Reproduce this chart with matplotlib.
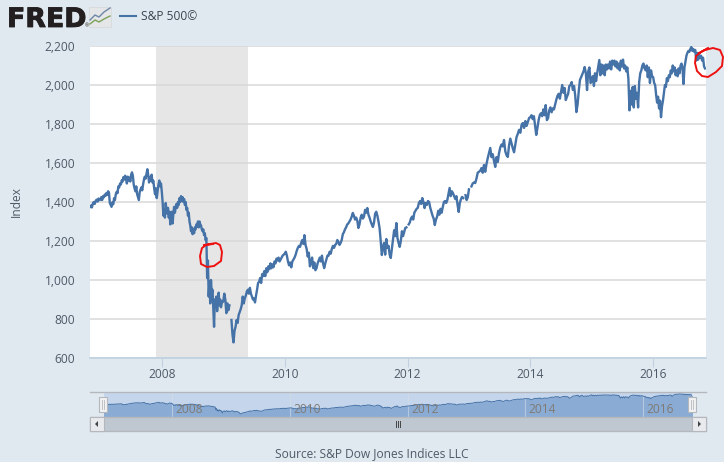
import matplotlib
matplotlib.use('Agg')
import matplotlib.pyplot as plt
import matplotlib.patheffects as pe
from matplotlib.patches import Rectangle, Polygon
import numpy as np

plt.rcParams['font.family'] = ['Open Sans', 'DejaVu Sans']

nan = float('nan')

# index, values spread evenly over each span
y2006 = [1375, 1382, 1372, 1392, 1400, 1390, 1406, 1412, 1402, 1418, 1410]
y2007 = [1412, 1425, 1410, 1430, 1424, 1438, 1432, 1446, 1436, 1455, 1448, 1395, 1385, 1375, 1398, 1388, 1420, 1410,
         1440, 1452, 1445, 1480, 1475, 1495, 1490, 1512, 1505, 1528, 1515, 1535, 1520, 1495, 1530, 1510, 1525, 1505,
         1540, 1552, 1535, 1490, 1470, 1455, 1480, 1440, 1425, 1410, 1450, 1465, 1475, 1460, 1490, 1515, 1530, 1520,
         1545, 1568, 1540, 1500, 1525, 1510, 1540, 1500, 1510, 1470, 1440, 1470, 1420, 1455, 1490, 1510, 1480, 1495]
y2008 = [1450, 1400, 1330, 1360, 1320, 1395, 1360, 1340, 1370, 1320, 1350, 1285, 1320,
         1350, 1290, 1340, 1375, 1345, 1370, 1390, 1370, 1400, 1385, 1420, 1400, 1430, 1405, 1425, 1400,
         1415, 1385, 1400, 1360, 1370, 1330, 1345, 1300, 1280, 1250, 1270, 1235, 1260, 1240,
         1270, 1260, 1285, 1275, 1300, 1270, 1300, 1285, 1280, 1260, 1250, 1260, 1230, 1240, 1205, 1215,
         1010, 1100, 915, 990, 880, 1000, 930, 950, 855, 760, 900, 880, 915, 840, 890, 935, 870, 900, 860, 880, 890]
y2009 = [890, 930, 900, 830, 880, 845, 870, nan, 795, 720, 680, 740, 760, 795, 780, 820, 835, 850, 870, 915,
         880, 905, 920, 940, 950, 930, 960, 930, 915, 900, 905, 885, 920, 950, 985, 990, 1010, 985, 1030, 1020,
         1045, 1020, 1060, 1040, 1070, 1055, 1085, 1060, 1080, 1065, 1095, 1085, 1110, 1100, 1115, 1095, 1105, 1115, 1125, 1130]
y2010 = [1135, 1145, 1125, 1095, 1075, 1090, 1065, 1095, 1105, 1115, 1130, 1150, 1165, 1175, 1170, 1190, 1205, 1185, 1230, 1180,
         1160, 1120, 1140, 1070, 1090, 1115, 1061, 1090, 1050, 1060, 1085, 1100, 1115, 1095, 1125, 1085, 1061, 1085, 1105, 1125,
         1125, 1145, 1135, 1160, 1175, 1165, 1180, 1185, 1205, 1195, 1180, 1190, 1205, 1235, 1245, 1260]
y2011 = [1270, 1285, 1290, 1300, 1310, 1325, 1344, 1330, 1310, 1320, 1305, 1267, 1285, 1320, 1335, 1315, 1325, 1360, 1345, 1369,
         1335, 1320, 1300, 1285, 1272, 1295, 1340, 1350, 1330, 1300, 1265, 1200, 1128, 1170, 1190, 1130, 1210, 1165, 1175, 1130,
         1113, 1160, 1205, 1255, 1225, 1292, 1215, 1190, 1170, 1200, 1250, 1225, 1245, 1267, 1270]
y2012 = [nan, 1285, 1295, 1315, 1325, 1310, 1345, 1355, 1365, 1370, 1395, 1405, 1390, 1420, 1400, 1369, 1395, 1385, 1405, 1400, 1370,
         1350, 1330, 1315, 1282, 1310, 1325, 1355, 1335, 1365, 1345, 1374, 1400, 1405, 1395, 1410, 1440, 1472, 1430, 1455, 1445,
         1430, 1415, 1430, 1385, 1349, 1395, 1415, 1426, 1420, nan, 1435, 1410, 1425]
y2013 = [1465, nan, 1480, 1495, 1500, 1497, 1520, 1550, 1555, 1560, 1574, 1550, 1590, 1555, 1595, 1625, 1650, 1677, 1630, 1645,
         1610, 1580, 1630, 1605, 1650, 1680, 1695, 1685, 1718, 1660, 1640, 1631, 1690, 1725, 1700, 1675, 1655, 1695, 1733, 1750,
         1770, 1755, 1795, 1805, 1780, 1815, 1790, 1810, 1831]
y2014 = [1835, 1845, 1825, 1840, 1790, 1744, 1780, 1820, 1846, 1855, 1840, 1875, 1845, 1897, 1820, 1830, 1870, 1885, 1860, 1880,
         1875, 1900, 1925, 1945, 1955, 1930, 1965, 2000, 1960, 1985, 1923, 1940, 1955, 1995, 2000, 2015, 1975, 1995, 1945, 1861,
         1900, 1970, 2026, 2040, 2055, 2070, 2092, 2060, 1974, 2070, 2090, 2010]
y2015 = [2020, 2045, 1995, 2060, 2020, 2060, 2095, 2128, 2050, 2105, 2060, 2100, 2050, 2105, 2080, 2105, 2085, 2120, 2080, 2125,
         2105, 2125, 2095, 2120, 2085, 2110, 2075, 2125, 2095, 2130, 2085, 2100, 2070, 2090, 2030, 1870, 1970, 1900, 1990, 1885,
         1995, 1930, 1960, 1885, 2015, 2060, 2075, 2100, 2110, 2085, 2075, 2100, 2040, 2090, 2010, 2075, 2045]
y2016 = [2040, 2010, 2000, 1950, 1910, 1940, 1880, 1920, 1835, 1890, 1920, 1960, 2000, 1990, 2035, 2020, 2050, 2040, 2075, 2060,
         2100, 2070, 2090, 2050, 2075, 2045, 2085, 2060, 2100, 2110, 2085, 2005, 2090, 2120, 2150, 2165, 2175, 2170, 2185, 2195,
         2175, 2185, 2170, 2180, 2125, 2165, 2130, 2155, 2140, 2150, 2125, 2140, 2095, 2085]
blocks = [(2006.83, 2007.0, y2006), (2007.0, 2008.0, y2007), (2008.0, 2009.0, y2008), (2009.0, 2010.0, y2009),
          (2010.0, 2011.0, y2010), (2011.0, 2012.0, y2011), (2012.0, 2013.0, y2012), (2013.0, 2014.0, y2013),
          (2014.0, 2015.0, y2014), (2015.0, 2016.0, y2015), (2016.0, 2016.86, y2016)]
recession = [2007.90, 2009.40]
y_ticks = [600, 800, 1000, 1200, 1400, 1600, 1800, 2000, 2200]
x_ticks = [2008, 2010, 2012, 2014, 2016]
series_name = 'S&P 500©'
source = 'Source: S&P Dow Jones Indices LLC'

dates = np.concatenate([np.linspace(a, b, len(v), endpoint=False) for a, b, v in blocks])
values = np.concatenate([v for a, b, v in blocks])
ok = ~np.isnan(values)

W, H = 724, 462
BG = '#e1e9f0'
LINE = '#4572a7'
TXT = '#4d5a68'
FS = 8.64

def axes_px(left, top, right, bottom):
    return fig.add_axes([left / W, 1 - bottom / H, (right - left) / W, (bottom - top) / H])

fig = plt.figure(figsize=(W / 100, H / 100), dpi=100, facecolor=BG)

# main chart
ax = axes_px(90, 46, 706, 358)
ax.set_xlim(2006.83, 2016.86)
ax.set_ylim(600, 2200)
ax.axvspan(recession[0], recession[1], color='#e6e6e6', lw=0, zorder=1)
ax.grid(axis='y', color='#d8d8d8', lw=1.1, zorder=2)
ax.plot(dates, values, color=LINE, lw=1.7, solid_joinstyle='round', zorder=3)
ax.set_yticks(y_ticks)
ax.set_yticklabels(['{:,}'.format(t) for t in y_ticks])
ax.set_xticks(x_ticks)
ax.tick_params(axis='y', length=0, pad=10.5, labelsize=FS, labelcolor=TXT)
ax.tick_params(axis='x', length=6.5, width=0.8, color='#c0d0e0', pad=0.5, labelsize=FS, labelcolor=TXT)
ax.set_ylabel('Index', fontsize=FS, color=TXT)
ax.yaxis.set_label_coords(-0.109, 0.5)
for s in ['top', 'left', 'right']:
    ax.spines[s].set_visible(False)
ax.spines['bottom'].set_color('#c0d0e0')
ax.spines['bottom'].set_linewidth(1.2)

# range navigator
nav = axes_px(103.5, 392, 692, 417)
nav.set_xlim(2006.83, 2016.83)
nav.set_ylim(455, 2340)
nav.set_facecolor('#c5d6ec')
nav.fill_between(dates[ok], values[ok], 455, color='#8aabd3', lw=0, zorder=2)
nav.plot(dates[ok], values[ok], color=LINE, lw=0.7, zorder=3)
for t in x_ticks:
    nav.axvline(t, color='#d5deea', lw=0.8, alpha=0.6, zorder=2.5)
    nav.text(t + 0.29, 1010, str(t), fontsize=FS, color='#7f7a75', ha='center', va='center', zorder=4)
nav.set_xticks([])
nav.set_yticks([])
for s in nav.spines.values():
    s.set_visible(False)

# decoration layer in pixel coordinates
ov = axes_px(0, 0, W, H)
ov.set_xlim(0, W)
ov.set_ylim(H, 0)
ov.axis('off')
ov.patch.set_alpha(0)

# navigator frame and scrollbar
ov.plot([90, 706], [392, 392], color='#b4b8bd', lw=1)
ov.add_patch(Rectangle((90, 417), 616, 14, fc='#bfc7d1', ec='#b4b8bd', lw=1))
for x0 in (90, 692):
    ov.add_patch(Rectangle((x0, 417), 14, 14, fc='#e8eaee', ec='#b4b8bd', lw=0.8))
ov.add_patch(Polygon([[98, 421], [98, 427], [95, 424]], fc='#444444', lw=0))
ov.add_patch(Polygon([[698, 421], [698, 427], [701, 424]], fc='#444444', lw=0))
for x0 in (396, 398, 400):
    ov.plot([x0, x0], [421, 427], color='#444444', lw=0.7)
for x0 in (103, 692):
    ov.add_patch(Rectangle((x0 - 4, 397), 8, 15, fc='#f2f2f2', ec='#b4b8bd', lw=0.8, zorder=5))
    for dx in (-1, 1):
        ov.plot([x0 + dx, x0 + dx], [400, 409], color='#b4b8bd', lw=0.6, zorder=6)

# header: logo and legend
ov.text(7, 27, 'FRED', fontsize=19.3, fontweight='bold', color='#231f20', family='DejaVu Sans', va='baseline',
        path_effects=[pe.withStroke(linewidth=0.6, foreground='#231f20')])
ov.text(84.5, 27, '®', fontsize=3.5, color='#231f20', va='baseline')
ov.add_patch(Rectangle((89, 7), 22, 20, fc='#e4e6e8', ec='#d5d8da', lw=0.5))
ov.plot([90, 95, 99, 104, 110], [20, 15, 17, 12, 8], color='#6d87a5', lw=1)
ov.plot([90, 95, 99, 104, 110], [24, 20, 22, 19, 16], color='#7da25a', lw=1)
ov.plot([120, 136], [16, 16], color=LINE, lw=1.5)
ov.text(141, 16, series_name, fontsize=FS, color='#3c4650', va='center')
ov.text(372, 454, source, fontsize=FS, color=TXT, ha='center', va='center')

# hand drawn red marks
mark1_x = [204, 210, 216, 220, 222, 221, 214, 207, 201, 200, 202, 206, 213]
mark1_y = [245, 244, 243, 245, 252, 261, 266, 267, 264, 256, 248, 245, 244]
mark2_x = [699, 705, 713, 720, 723, 722, 716, 708, 702, 697, 695, 696, 701, 708]
mark2_y = [53, 50, 48, 50, 57, 66, 72, 77, 76, 71, 63, 56, 52, 48]
ov.plot(mark1_x, mark1_y, color='#ee1111', lw=1.4)
ov.plot(mark2_x, mark2_y, color='#ee1111', lw=1.4)

fig.savefig('out.png', dpi=100, facecolor=BG)
